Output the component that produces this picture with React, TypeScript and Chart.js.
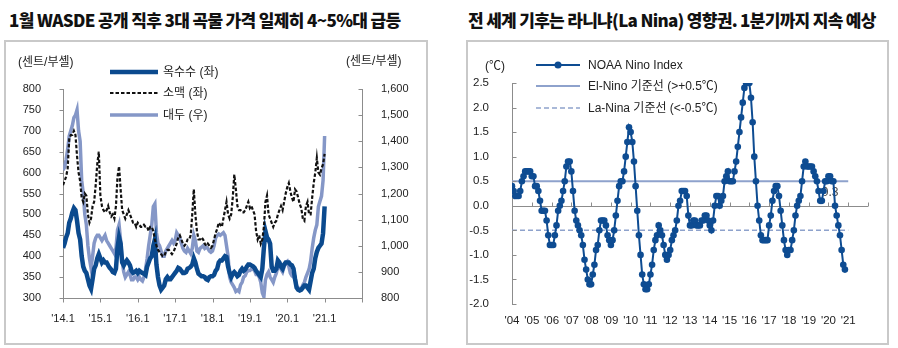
import React, { useEffect, useRef } from 'react';
import { Chart, registerables } from 'chart.js';

Chart.register(...registerables);

const FONT = "'Liberation Sans', Arial, 'Noto Sans CJK KR', sans-serif";
const TITLE_FONT = "'Noto Sans CJK KR', sans-serif";

// ---------- Left chart: grain prices (semi-monthly, Jan 2014 .. Jan 2021) ----------
const grainXTickLabels = ["'14.1", "'15.1", "'16.1", "'17.1", "'18.1", "'19.1", "'20.1", "'21.1"];
const grainLegend = ['옥수수 (좌)', '소맥 (좌)', '대두 (우)'];
const grainUnit = '(센트/부셸)';

const corn = [
  420, 430, 445, 455, 480, 490, 505, 515, 510, 485, 455, 440, 400, 375, 365, 360, 345, 330, 322, 345, 370, 378, 395, 405,
  395, 385, 390, 385, 385, 378, 372, 368, 362, 360, 370, 420, 445, 430, 385, 378, 385, 390, 385, 378, 365, 360, 362, 365,
  360, 365, 362, 360, 358, 355, 375, 385, 395, 400, 425, 440, 380, 350, 330, 320, 325, 330, 345, 350, 345, 345, 350, 355,
  360, 365, 372, 370, 365, 360, 360, 362, 370, 372, 375, 380, 395, 385, 370, 358, 355, 352, 352, 350, 345, 343, 350, 352,
  352, 355, 365, 370, 385, 390, 390, 395, 400, 398, 375, 360, 350, 358, 362, 358, 352, 355, 365, 370, 365, 368, 375, 380,
  380, 378, 376, 372, 365, 360, 355, 350, 370, 420, 460, 445, 440, 430, 375, 365, 365, 370, 390, 385, 375, 370, 380, 385,
  385, 385, 380, 378, 370, 345, 325, 320, 318, 320, 325, 330, 330, 325, 320, 340, 360, 370, 395, 410, 420, 425, 430, 455,
  519,
];

const wheat = [
  570, 580, 590, 610, 680, 690, 690, 700, 690, 640, 600, 580, 540, 530, 550, 545, 500, 480, 490, 520, 530, 570, 620, 650,
  545, 520, 510, 505, 510, 520, 505, 495, 500, 490, 520, 590, 615, 560, 510, 500, 490, 500, 510, 500, 490, 480, 480, 470,
  480, 475, 470, 470, 475, 470, 470, 460, 470, 470, 460, 440, 425, 415, 410, 405, 400, 400, 410, 415, 415, 410, 405, 410,
  420, 430, 445, 450, 440, 430, 425, 430, 440, 440, 450, 500, 560, 500, 460, 440, 440, 445, 440, 430, 425, 430, 425, 420,
  425, 440, 455, 465, 480, 475, 470, 490, 510, 530, 500, 490, 500, 540, 595, 560, 520, 510, 510, 505, 505, 510, 520, 530,
  515, 520, 510, 500, 460, 440, 450, 430, 440, 470, 530, 545, 500, 490, 480, 470, 480, 485, 500, 510, 520, 510, 530, 550,
  565, 575, 555, 540, 530, 560, 555, 540, 525, 515, 490, 485, 520, 530, 500, 500, 540, 575, 600, 635, 600, 595, 610, 620,
  645,
];

const soybean = [
  1290, 1300, 1330, 1370, 1420, 1440, 1460, 1490, 1500, 1520, 1440, 1400, 1250, 1200, 1120, 1080, 1000, 950, 915, 960, 1010, 1030, 1040, 1040,
  1030, 1020, 1030, 1040, 1020, 1010, 1000, 990, 980, 970, 990, 1060, 1080, 1020, 940, 900, 880, 890, 900, 890, 870, 870, 880, 880,
  870, 880, 870, 865, 880, 910, 950, 1000, 1040, 1080, 1150, 1160, 1050, 1010, 1000, 980, 960, 960, 980, 990, 1000, 1010, 1020, 1010,
  1020, 1050, 1040, 1030, 1010, 990, 980, 975, 990, 980, 970, 990, 1040, 1020, 980, 975, 990, 995, 1000, 990, 995, 990, 980, 975,
  980, 1000, 1030, 1040, 1045, 1040, 1045, 1050, 1040, 1000, 960, 880, 860, 850, 840, 825, 830, 825, 850, 860, 880, 885, 900, 905,
  905, 910, 910, 905, 890, 890, 880, 860, 820, 805, 870, 890, 900, 880, 870, 860, 880, 895, 920, 930, 910, 900, 920, 935,
  940, 920, 895, 885, 880, 880, 845, 840, 830, 835, 850, 860, 880, 895, 910, 940, 990, 1030, 1060, 1080, 1150, 1170, 1190, 1250,
  1420,
];

// ---------- Right chart: NOAA Nino index (monthly, Jan 2004 .. Nov 2020) ----------
const ninoXTickLabels = ["'04", "'05", "'06", "'07", "'08", "'09", "'10", "'11", "'12", "'13", "'14", "'15", "'16", "'17", "'18", "'19", "'20", "'21"];
const ninoLegend = ['NOAA Nino Index', 'El-Nino 기준선 (>+0.5℃)', 'La-Nina 기준선 (<-0.5℃)'];
const ninoUnit = '(℃)';
const ninoIndex = [
  0.4, 0.3, 0.2, 0.2, 0.2, 0.3, 0.5, 0.6, 0.7, 0.7, 0.7, 0.7,
  0.6, 0.6, 0.4, 0.4, 0.3, 0.1, -0.1, -0.1, -0.1, -0.3, -0.6, -0.8,
  -0.8, -0.8, -0.6, -0.4, -0.1, 0.0, 0.1, 0.3, 0.5, 0.8, 0.9, 0.9,
  0.7, 0.3, -0.1, -0.3, -0.4, -0.5, -0.6, -0.8, -1.1, -1.3, -1.5, -1.6,
  -1.6, -1.4, -1.2, -0.9, -0.8, -0.5, -0.3, -0.3, -0.3, -0.4, -0.6, -0.7,
  -0.8, -0.7, -0.5, -0.2, 0.1, 0.4, 0.5, 0.5, 0.7, 1.0, 1.3, 1.6,
  1.5, 1.3, 0.9, 0.4, -0.1, -0.6, -1.0, -1.4, -1.6, -1.7, -1.7, -1.6,
  -1.4, -1.2, -0.9, -0.7, -0.6, -0.4, -0.5, -0.6, -0.8, -1.0, -1.1, -1.0,
  -0.9, -0.7, -0.6, -0.5, -0.3, 0.0, 0.1, 0.3, 0.3, 0.3, 0.2, -0.2,
  -0.4, -0.4, -0.3, -0.3, -0.4, -0.4, -0.4, -0.3, -0.3, -0.2, -0.2, -0.3,
  -0.4, -0.5, -0.3, 0.0, 0.2, 0.2, 0.0, 0.1, 0.2, 0.5, 0.6, 0.7,
  0.5, 0.5, 0.5, 0.7, 0.9, 1.2, 1.5, 1.8, 2.1, 2.4, 2.5, 2.5,
  2.5, 2.2, 1.7, 1.0, 0.5, 0.0, -0.3, -0.6, -0.7, -0.7, -0.7, -0.7,
  -0.4, -0.2, 0.1, 0.3, 0.4, 0.4, 0.2, -0.1, -0.4, -0.7, -0.9, -1.0,
  -0.9, -0.9, -0.7, -0.5, -0.2, 0.0, 0.1, 0.2, 0.5, 0.8, 0.9, 0.8,
  0.8, 0.8, 0.8, 0.7, 0.6, 0.5, 0.3, 0.1, 0.1, 0.3, 0.5, 0.5,
  0.6, 0.6, 0.5, 0.5, 0.0, -0.2, -0.4, -0.6, -0.9, -1.2, -1.3,
];
const elNinoThreshold = 0.5;
const laNinaThreshold = -0.5;
const ninoNote = { label: '0.3', month: 193, value: 0.27 };

const CORN_COLOR = '#0b4a8e';
const SOY_COLOR = '#8597c7';
const WHEAT_COLOR = '#111111';
const NINO_COLOR = '#0e4c92';
const THRESH_COLOR = '#8ea2cc';
const AXIS_COLOR = '#8c8c8c';
const TEXT_COLOR = '#222222';

type TickItem = { id: string; from: number; to: number };

function tickPlugin(items: TickItem[]) {
  return {
    id: 'tickMarks',
    afterDatasetsDraw(chart: any) {
      const ctx = chart.ctx;
      const area = chart.chartArea;
      ctx.save();
      ctx.strokeStyle = AXIS_COLOR;
      ctx.lineWidth = 1;
      ctx.beginPath();
      items.forEach((it) => {
        const s = chart.scales[it.id];
        s.ticks.forEach((t: any) => {
          const p = Math.round(s.getPixelForValue(t.value)) + 0.5;
          if (s.isHorizontal()) {
            const y0 = Math.round(area.bottom) + 0.5;
            ctx.moveTo(p, y0 + it.from);
            ctx.lineTo(p, y0 + it.to);
          } else {
            const x0 = Math.round(s.position === 'left' ? area.left : area.right) + 0.5;
            ctx.moveTo(x0 + it.from, p);
            ctx.lineTo(x0 + it.to, p);
          }
        });
      });
      ctx.stroke();
      ctx.restore();
    },
  };
}

function GrainChart() {
  const ref = useRef<HTMLCanvasElement>(null);
  useEffect(() => {
    const ctxEl = ref.current!;
    const font = { family: FONT, size: 11 };
    const legendPlugin = {
      id: 'grainLegend',
      afterDraw(chart: any) {
        const ctx = chart.ctx;
        ctx.save();
        ctx.font = `12px ${FONT}`;
        ctx.fillStyle = TEXT_COLOR;
        ctx.textBaseline = 'middle';
        ctx.fillText(grainUnit, 18, 63);
        ctx.fillText(grainUnit, 346, 62);
        const rows = [
          { y: 72, color: CORN_COLOR, width: 4.5, dash: [] as number[] },
          { y: 93, color: WHEAT_COLOR, width: 2, dash: [3.5, 2] },
          { y: 115, color: SOY_COLOR, width: 3.5, dash: [] as number[] },
        ];
        rows.forEach((r, i) => {
          ctx.beginPath();
          ctx.strokeStyle = r.color;
          ctx.lineWidth = r.width;
          ctx.setLineDash(r.dash);
          ctx.moveTo(110, r.y);
          ctx.lineTo(158, r.y);
          ctx.stroke();
          ctx.setLineDash([]);
          ctx.fillText(grainLegend[i], 163, r.y + 1);
        });
        ctx.restore();
      },
    };
    const chart = new Chart(ctxEl, {
      type: 'line',
      data: {
        datasets: [
          {
            label: grainLegend[1],
            data: wheat.map((v, i) => ({ x: i, y: v })),
            yAxisID: 'y',
            borderColor: WHEAT_COLOR,
            borderWidth: 2.2,
            borderDash: [3.5, 2],
            pointRadius: 0,
            order: 0,
          },
          {
            label: grainLegend[0],
            data: corn.map((v, i) => ({ x: i, y: v })),
            yAxisID: 'y',
            borderColor: CORN_COLOR,
            borderWidth: 4.5,
            pointRadius: 0,
            order: 1,
          },
          {
            label: grainLegend[2],
            data: soybean.map((v, i) => ({ x: i, y: v })),
            yAxisID: 'y1',
            borderColor: SOY_COLOR,
            borderWidth: 3.5,
            pointRadius: 0,
            order: 2,
          },
        ],
      },
      options: {
        responsive: false,
        animation: false,
        layout: { padding: { top: 89, left: 0, right: 0, bottom: 0 } },
        plugins: { legend: { display: false }, tooltip: { enabled: false } },
        scales: {
          x: {
            type: 'linear',
            min: 0,
            max: grainXTickLabels.length * 24,
            afterBuildTicks: (s: any) => {
              const t = grainXTickLabels.map((_, i) => ({ value: i * 24 }));
              t.push({ value: grainXTickLabels.length * 24 });
              s.ticks = t;
            },
            ticks: {
              callback: (v: any) => grainXTickLabels[Math.round(v / 24)] ?? '',
              font,
              color: TEXT_COLOR,
              padding: 6,
              maxRotation: 0,
              autoSkip: false,
            },
            grid: { display: false },
            border: { display: true, color: AXIS_COLOR, width: 1 },
            afterFit: (s: any) => { s.height = 50; },
          },
          y: {
            position: 'left',
            min: 300,
            max: 800,
            ticks: { stepSize: 50, font, color: TEXT_COLOR, padding: 14 },
            grid: { display: false },
            border: { display: true, color: AXIS_COLOR, width: 1 },
            afterFit: (s: any) => { s.width = 63; },
          },
          y1: {
            position: 'right',
            min: 800,
            max: 1600,
            ticks: {
              stepSize: 100,
              font,
              color: TEXT_COLOR,
              padding: 11,
              callback: (v: any) => Number(v).toLocaleString('en-US'),
            },
            grid: { display: false },
            border: { display: true, color: AXIS_COLOR, width: 1 },
            afterFit: (s: any) => { s.width = 88; },
          },
        },
      },
      plugins: [
        tickPlugin([
          { id: 'x', from: 0, to: 4 },
          { id: 'y', from: -4, to: 0 },
          { id: 'y1', from: -4, to: 0 },
        ]),
        legendPlugin,
      ],
    } as any);
    return () => chart.destroy();
  }, []);
  return <canvas ref={ref} width={450} height={348} style={{ position: 'absolute', left: 0, top: 0 }} />;
}

function NinoChart() {
  const ref = useRef<HTMLCanvasElement>(null);
  useEffect(() => {
    const ctxEl = ref.current!;
    const font = { family: FONT, size: 11.5 };
    const lastTick = ninoXTickLabels.length * 12;
    const lineEnd = (ninoXTickLabels.length - 1) * 12;
    const zeroLinePlugin = {
      id: 'zeroLine',
      beforeDatasetsDraw(chart: any) {
        const ctx = chart.ctx;
        const area = chart.chartArea;
        const xs = chart.scales.x;
        const y0 = Math.round(chart.scales.y.getPixelForValue(0)) + 0.5;
        ctx.save();
        ctx.strokeStyle = AXIS_COLOR;
        ctx.lineWidth = 1;
        ctx.beginPath();
        ctx.moveTo(area.left, y0);
        ctx.lineTo(area.right, y0);
        xs.ticks.forEach((t: any) => {
          const p = Math.round(xs.getPixelForValue(t.value)) + 0.5;
          ctx.moveTo(p, y0);
          ctx.lineTo(p, y0 - 4);
        });
        ctx.stroke();
        ctx.font = `12px ${FONT}`;
        ctx.fillStyle = '#444';
        ctx.textAlign = 'center';
        ctx.textBaseline = 'middle';
        ctx.fillText(ninoNote.label, xs.getPixelForValue(ninoNote.month), chart.scales.y.getPixelForValue(ninoNote.value));
        ctx.restore();
      },
    };
    const legendPlugin = {
      id: 'ninoLegend',
      afterDraw(chart: any) {
        const ctx = chart.ctx;
        ctx.save();
        ctx.font = `12px ${FONT}`;
        ctx.fillStyle = TEXT_COLOR;
        ctx.textBaseline = 'middle';
        ctx.fillText(ninoUnit, 35, 67);
        const rows = [
          { y: 65, color: NINO_COLOR, width: 2, dash: [] as number[], dot: true },
          { y: 86, color: THRESH_COLOR, width: 2, dash: [] as number[], dot: false },
          { y: 108, color: THRESH_COLOR, width: 1.5, dash: [5, 3], dot: false },
        ];
        rows.forEach((r, i) => {
          ctx.beginPath();
          ctx.strokeStyle = r.color;
          ctx.lineWidth = r.width;
          ctx.setLineDash(r.dash);
          ctx.moveTo(86, r.y);
          ctx.lineTo(130, r.y);
          ctx.stroke();
          ctx.setLineDash([]);
          if (r.dot) {
            ctx.beginPath();
            ctx.fillStyle = r.color;
            ctx.arc(108, r.y, 3.5, 0, Math.PI * 2);
            ctx.fill();
            ctx.fillStyle = TEXT_COLOR;
          }
          ctx.fillText(ninoLegend[i], 138, r.y + 1);
        });
        ctx.restore();
      },
    };
    const chart = new Chart(ctxEl, {
      type: 'line',
      data: {
        datasets: [
          {
            label: ninoLegend[0],
            data: ninoIndex.map((v, i) => ({ x: i, y: v })),
            borderColor: NINO_COLOR,
            backgroundColor: NINO_COLOR,
            borderWidth: 2,
            pointRadius: 3.3,
            pointBorderWidth: 0,
            order: 0,
          },
          {
            label: ninoLegend[1],
            data: [{ x: 0, y: elNinoThreshold }, { x: lineEnd, y: elNinoThreshold }],
            borderColor: THRESH_COLOR,
            borderWidth: 2,
            pointRadius: 0,
            order: 1,
          },
          {
            label: ninoLegend[2],
            data: [{ x: 0, y: laNinaThreshold }, { x: lineEnd, y: laNinaThreshold }],
            borderColor: THRESH_COLOR,
            borderWidth: 1.5,
            borderDash: [5, 3],
            pointRadius: 0,
            order: 2,
          },
        ],
      },
      options: {
        responsive: false,
        animation: false,
        layout: { padding: { top: 83, left: 0, right: 0, bottom: 0 } },
        plugins: { legend: { display: false }, tooltip: { enabled: false } },
        scales: {
          x: {
            type: 'linear',
            min: 0,
            max: lastTick,
            afterBuildTicks: (s: any) => {
              const t = ninoXTickLabels.map((_, i) => ({ value: i * 12 }));
              t.push({ value: lastTick });
              s.ticks = t;
            },
            ticks: {
              callback: (v: any) => ninoXTickLabels[Math.round(v / 12)] ?? '',
              font,
              color: TEXT_COLOR,
              padding: 2,
              maxRotation: 0,
              autoSkip: false,
            },
            grid: { display: false },
            border: { display: false },
            afterFit: (s: any) => { s.height = 44; },
          },
          y: {
            position: 'left',
            min: -2,
            max: 2.5,
            ticks: {
              stepSize: 0.5,
              font,
              color: TEXT_COLOR,
              padding: 15,
              callback: (v: any) => Number(v).toFixed(1),
            },
            grid: { display: false },
            border: { display: true, color: AXIS_COLOR, width: 1 },
            afterFit: (s: any) => { s.width = 62; },
          },
          yr: {
            position: 'right',
            display: true,
            ticks: { display: false },
            grid: { display: false },
            border: { display: false },
            afterFit: (s: any) => { s.width = 30; },
          },
        },
      },
      plugins: [tickPlugin([{ id: 'y', from: 0, to: 4 }]), zeroLinePlugin, legendPlugin],
    } as any);
    return () => chart.destroy();
  }, []);
  return <canvas ref={ref} width={448} height={348} style={{ position: 'absolute', left: 450, top: 0 }} />;
}

const titleStyle: React.CSSProperties = {
  position: 'absolute',
  top: 9,
  fontFamily: TITLE_FONT,
  fontWeight: 800,
  fontSize: 17,
  lineHeight: '22px',
  color: '#111',
  whiteSpace: 'nowrap',
  letterSpacing: '-0.65px',
};

const boxStyle: React.CSSProperties = {
  position: 'absolute',
  top: 40,
  height: 305,
  border: '2px solid #c9c9c9',
  boxSizing: 'border-box',
};

export default function App() {
  return (
    <div style={{ position: 'fixed', left: 0, top: 0, width: 898, height: 348, background: '#fff', overflow: 'hidden' }}>
      <div style={{ ...titleStyle, left: 9 }}>1월 WASDE 공개 직후 3대 곡물 가격 일제히 4~5%대 급등</div>
      <div style={{ ...titleStyle, left: 468, letterSpacing: '-0.7px' }}>전 세계 기후는 라니냐(La Nina) 영향권. 1분기까지 지속 예상</div>
      <div style={{ ...boxStyle, left: 4, width: 424 }} />
      <div style={{ ...boxStyle, left: 466, width: 423 }} />
      <GrainChart />
      <NinoChart />
    </div>
  );
}
